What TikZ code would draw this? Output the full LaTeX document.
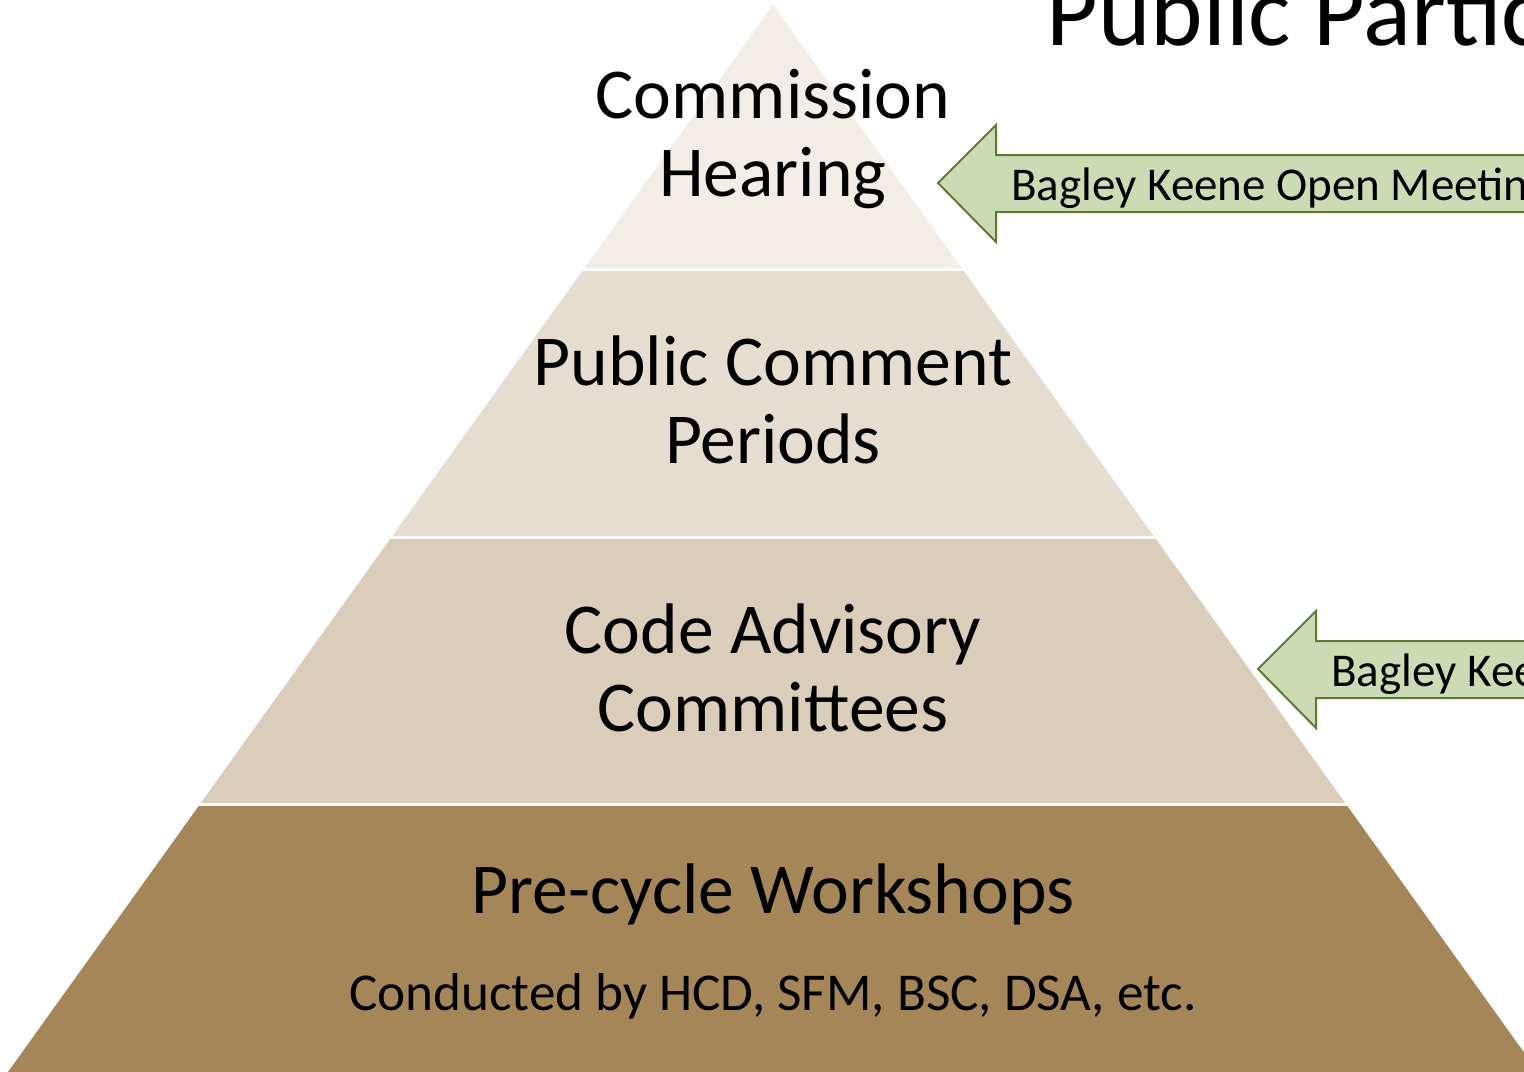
\documentclass[tikz,border=0pt]{standalone}
\usepackage{fontspec}
\setmainfont{Carlito}
\definecolor{bandA}{RGB}{242,237,230}
\definecolor{bandB}{RGB}{230,221,209}
\definecolor{bandC}{RGB}{218,205,186}
\definecolor{bandD}{RGB}{165,134,89}
\definecolor{arrowfill}{RGB}{205,219,180}
\definecolor{arrowline}{RGB}{95,122,54}
\begin{document}
\begin{tikzpicture}[x=0.5pt,y=-0.5pt,
  big/.style={font=\fontsize{35.8}{39}\selectfont, inner sep=0pt, align=center, anchor=base},
  small/.style={font=\fontsize{26.6}{30}\selectfont, inner sep=0pt, anchor=base},
  arrowtext/.style={font=\fontsize{23.5}{27}\selectfont, inner sep=0pt, anchor=base west},
  title/.style={font=\fontsize{50}{56}\selectfont, inner sep=0pt, anchor=base west},
  callout/.style={fill=arrowfill, draw=arrowline, line width=1pt, line join=miter}]
\useasboundingbox (0,0) rectangle (1524,1071);
\clip (0,0) rectangle (1524,1071);
% pyramid bands
\fill[bandA] (773,5) -- (961.6,268) -- (584.4,268) -- cycle;
\fill[bandB] (582.3,271) -- (963.7,271) -- (1153.7,536) -- (392.3,536) -- cycle;
\fill[bandC] (390.1,539) -- (1155.9,539) -- (1345.2,803) -- (200.8,803) -- cycle;
\fill[bandD] (198.7,806) -- (1347.3,806) -- (1543.8,1080) -- (2.2,1080) -- cycle;
% labels (base = baseline of last line)
\node[big] (l1) at (773,196) {Commission\\Hearing};
\node[big] (l2) at (773,463) {Public Comment\\Periods};
\node[big] (l3) at (773,731) {Code Advisory\\Committees};
\node[big] (l4) at (773,913) {Pre-cycle Workshops};
\node[small] (l5) at (773,1010) {Conducted by HCD, SFM, BSC, DSA, etc.};
% title
\node[title] (t) at (1046,45) {Public Participation};
% callout arrows
\draw[callout] (938,183) -- (996,125) -- (996,155) -- (1560,155) -- (1560,212) -- (996,212) -- (996,242) -- cycle;
\node[arrowtext] (a1) at (1011,200) {Bagley Keene Open Meeting};
\draw[callout] (1258,669) -- (1316,611) -- (1316,641) -- (1560,641) -- (1560,698) -- (1316,698) -- (1316,728) -- cycle;
\node[arrowtext] (a2) at (1331,686) {Bagley Keene};
\end{tikzpicture}
\end{document}
